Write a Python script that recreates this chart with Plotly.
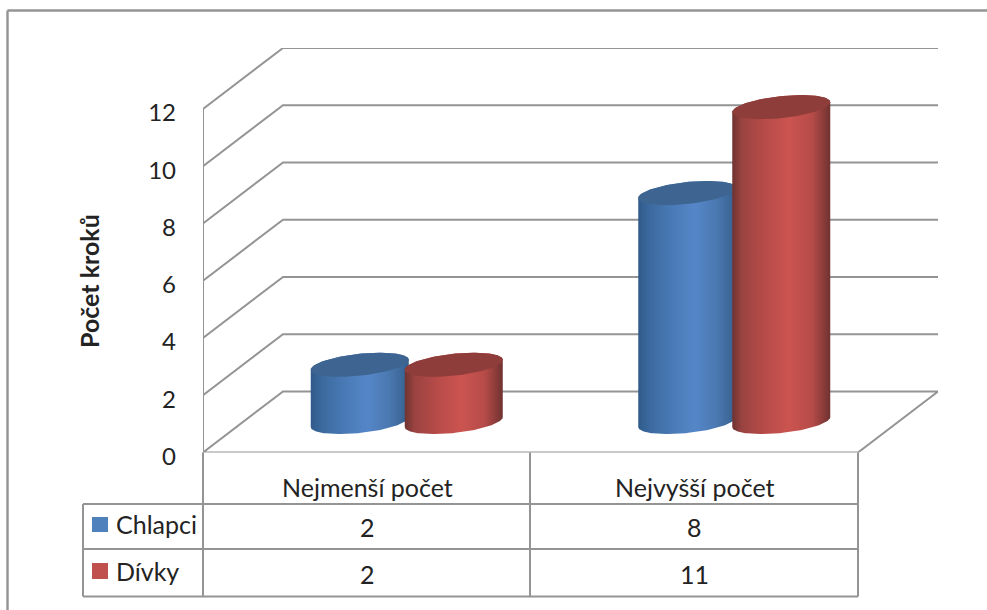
import numpy as np
import plotly.graph_objects as go

# Data shown in the chart and its table
categories = ["Nejmenší počet", "Nejvyšší počet"]
series_names = ["Chlapci", "Dívky"]
chlapci = [2, 8]
divky = [2, 11]
y_ticks = [0, 2, 4, 6, 8, 10, 12]
y_title = "Počet kroků"

FONT = "Lato, Carlito, sans-serif"
TEXT = "#232323"
GRID = "#949494"
W, H = 987, 610

# Pixel layout of the front plane of the 3D box
X0, X_FRONT_END, X_BACK_END = 203, 858, 938
Y0, Y12, Y_BACK_TOP = 452.5, 109, 48
cat_px = (X_FRONT_END - X0) / len(categories)
unit_px = (Y0 - Y12) / 12
x_range = [-0.5, -0.5 + (X_BACK_END - X0) / cat_px]
y_range = [0, (Y0 - Y_BACK_TOP) / unit_px]

# Oblique depth of the box, in axis units
DX = 80 / cat_px
DY = 61 / unit_px

# Cylinder geometry, in axis units
HALF_W = 49 / cat_px
BAR_OFFSET = 47 / cat_px
ELL_B = 11 / unit_px
ELL_S = 5 / unit_px

BLUE_SCALE = [[0, "#2f5a8a"], [0.12, "#3c6a9f"], [0.35, "#4a7ab6"], [0.58, "#5586c8"],
              [0.8, "#4a78b0"], [1, "#355f8e"]]
RED_SCALE = [[0, "#6e3331"], [0.1, "#9a4341"], [0.35, "#b94c49"], [0.58, "#cb5450"],
             [0.82, "#b54b48"], [1, "#6f3230"]]
BLUE_TOP = "#3e6592"
RED_TOP = "#8f3d3a"
BLUE_KEY = "#4f81bd"
RED_KEY = "#c0504d"

fig = go.Figure()


def line(xs, ys, color=GRID, width=2):
    fig.add_trace(go.Scatter(x=xs, y=ys, mode="lines", hoverinfo="skip", showlegend=False,
                             line=dict(color=color, width=width)))


# Back wall gridlines and their slanted continuation on the side wall
x_front_end = -0.5 + (X_FRONT_END - X0) / cat_px
for tick in y_ticks:
    if tick == 0:
        line([-0.5, -0.5 + DX, x_front_end + DX, x_front_end, -0.5],
             [0, DY, DY, 0, 0])
    else:
        line([-0.5, -0.5 + DX, x_front_end + DX], [tick, tick + DY, tick + DY])
line([-0.5, -0.5], [0, y_ticks[-1]])


def ellipse_xy(cx, cy, t):
    return cx + HALF_W * np.cos(t), cy + ELL_B * np.sin(t) + ELL_S * np.cos(t)


def cylinder(center, value, scale, top_color, name):
    cx = center + DX / 2
    base = DY / 2
    # The sheared ellipse reaches its horizontal extremes at angles 0 and pi
    lower = np.linspace(np.pi, 2 * np.pi, 60)
    upper = np.linspace(0, np.pi, 60)
    bx, by = ellipse_xy(cx, base, lower)
    tx, ty = ellipse_xy(cx, base + value, upper)
    fig.add_trace(go.Scatter(
        x=np.r_[bx, tx], y=np.r_[by, ty], mode="lines", fill="toself",
        line=dict(width=0, color="rgba(0,0,0,0)"),
        fillgradient=dict(type="horizontal", colorscale=scale),
        name=name, showlegend=False, hoverinfo="skip"))
    t = np.linspace(0, 2 * np.pi, 120)
    ex, ey = ellipse_xy(cx, base + value, t)
    fig.add_trace(go.Scatter(
        x=ex, y=ey, mode="lines", fill="toself", fillcolor=top_color,
        line=dict(width=0, color=top_color),
        name=name, showlegend=False, hoverinfo="text", text=f"{name}: {value}"))


for i in range(len(categories)):
    cylinder(i - BAR_OFFSET, chlapci[i], BLUE_SCALE, BLUE_TOP, series_names[0])
    cylinder(i + BAR_OFFSET, divky[i], RED_SCALE, RED_TOP, series_names[1])


def px(x):
    return x / W


def py(y):
    return 1 - y / H


# Outer frame and data table grid, placed in page coordinates
shapes = []


def seg(x0, y0, x1, y1, width=2, color=GRID):
    shapes.append(dict(type="line", xref="paper", yref="paper", x0=px(x0), y0=py(y0),
                       x1=px(x1), y1=py(y1), line=dict(color=color, width=width)))


seg(7.5, 10.5, W, 10.5, 2.4)
seg(7.5, 10.5, 7.5, H, 2.4)

ROW_Y = [452.5, 504, 549, 596.5]
T_LEFT, T_MID, T_RIGHT = 83, 530, 858
seg(X0, ROW_Y[0], X0, ROW_Y[3])
seg(T_MID, ROW_Y[0], T_MID, ROW_Y[3])
seg(T_RIGHT, ROW_Y[0], T_RIGHT, ROW_Y[3])
seg(T_LEFT, ROW_Y[1], T_LEFT, ROW_Y[3])
seg(T_LEFT, ROW_Y[1], T_RIGHT, ROW_Y[1])
seg(T_LEFT, ROW_Y[2], T_RIGHT, ROW_Y[2])
seg(T_LEFT, ROW_Y[3], T_RIGHT, ROW_Y[3])

# Legend keys inside the table
for color, (top, bottom) in zip((BLUE_KEY, RED_KEY), ((517, 532), (563, 579))):
    shapes.append(dict(type="rect", xref="paper", yref="paper", x0=px(92), x1=px(108),
                       y0=py(bottom), y1=py(top), fillcolor=color, line=dict(width=0)))

annotations = []


def label(x, y, text, xanchor="center", size=25, angle=0):
    annotations.append(dict(x=px(x), y=py(y), xref="paper", yref="paper", text=text,
                            showarrow=False, xanchor=xanchor, yanchor="middle",
                            textangle=angle,
                            font=dict(family=FONT, size=size, color=TEXT)))


centers = [367, 694.5]
row_text_y = [527, 573.5]
for i, cat in enumerate(categories):
    label(centers[i], 487, cat)
    label(centers[i], row_text_y[0], str(chlapci[i]))
    label(centers[i], row_text_y[1], str(divky[i]))
label(114, row_text_y[0] - 3, series_names[0], "left")
label(114, row_text_y[1] - 3, series_names[1], "left")
label(89, 281, f"<b>{y_title}</b>", size=25, angle=-90)

fig.update_layout(
    width=W, height=H, autosize=False,
    margin=dict(l=0, r=0, t=0, b=0),
    paper_bgcolor="white", plot_bgcolor="rgba(0,0,0,0)",
    showlegend=False, shapes=shapes, annotations=annotations,
    font=dict(family=FONT, color=TEXT),
    xaxis=dict(domain=[px(X0), px(X_BACK_END)], range=x_range, showgrid=False,
               zeroline=False, showticklabels=False, ticks="", fixedrange=True),
    yaxis=dict(domain=[py(Y0), py(Y_BACK_TOP)], range=y_range, showgrid=False,
               zeroline=False, tickvals=y_ticks, ticktext=[str(t) for t in y_ticks],
               tickfont=dict(family=FONT, size=24, color=TEXT), ticks="",
               ticklen=0, automargin=False, fixedrange=True,
               ticklabelstandoff=26, ticklabelshift=4),
)

fig.write_html("out.html", config={"displayModeBar": False})
